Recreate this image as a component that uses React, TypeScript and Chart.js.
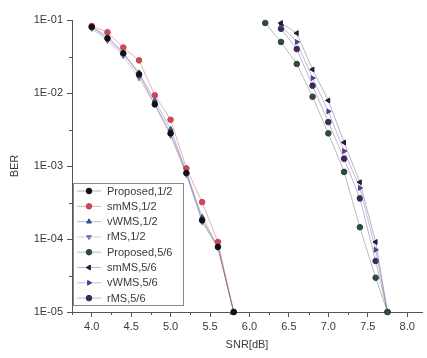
import React, { useEffect, useRef } from "react";
import { Chart, registerables } from "chart.js";
import { drawPoint } from "chart.js/helpers";

Chart.register(...registerables);

const snrRate12 = [4.0, 4.2, 4.4, 4.6, 4.8, 5.0, 5.2, 5.4, 5.6, 5.8];
const snrRate56 = [6.2, 6.4, 6.6, 6.8, 7.0, 7.2, 7.4, 7.6, 7.75];

const proposed12 = [8.0e-2, 5.6e-2, 3.5e-2, 1.8e-2, 7.0e-3, 2.8e-3, 8.0e-4, 1.8e-4, 7.8e-5, 1e-5];
const smMS12 = [8.3e-2, 6.8e-2, 4.2e-2, 2.8e-2, 9.3e-3, 4.3e-3, 9.3e-4, 3.2e-4, 9.1e-5, 1e-5];
const vWMS12 = [8.0e-2, 6.0e-2, 3.5e-2, 1.9e-2, 7.9e-3, 3.2e-3, 8.3e-4, 2.0e-4, 7.9e-5, 1e-5];
const rMS12 = [7.6e-2, 5.2e-2, 3.2e-2, 1.6e-2, 6.9e-3, 2.6e-3, 7.6e-4, 1.7e-4, 7.6e-5, 1e-5];

const proposed56 = [9.1e-2, 5.0e-2, 2.5e-2, 8.9e-3, 2.8e-3, 8.3e-4, 1.45e-4, 2.95e-5, 1e-5];
const smMS56 = [null, 9.1e-2, 6.6e-2, 2.1e-2, 7.9e-3, 2.1e-3, 6.0e-4, 9.1e-5, 1e-5];
const vWMS56 = [null, 8.5e-2, 5.0e-2, 1.6e-2, 5.6e-3, 1.6e-3, 5.0e-4, 7.1e-5, 1e-5];
const rMS56 = [null, 7.6e-2, 4.0e-2, 1.26e-2, 4.0e-3, 1.26e-3, 3.6e-4, 5.0e-5, 1e-5];

const xTickValues = [4.0, 4.5, 5.0, 5.5, 6.0, 6.5, 7.0, 7.5, 8.0];
const yTickValues = [1e-5, 1e-4, 1e-3, 1e-2, 1e-1];
const xMinorTicks = [3.75, 4.25, 4.75, 5.25, 5.75, 6.25, 6.75, 7.25, 7.75];
const yMinorTicks = [3.16e-5, 3.16e-4, 3.16e-3, 3.16e-2];

const seriesLabels = [
  "Proposed,1/2", "smMS,1/2", "vWMS,1/2", "rMS,1/2",
  "Proposed,5/6", "smMS,5/6", "vWMS,5/6", "rMS,5/6",
];
const seriesValues = [proposed12, smMS12, vWMS12, rMS12, proposed56, smMS56, vWMS56, rMS56];
const seriesColors = ["#111111", "#c8485a", "#2f4f8f", "#8a6fc0", "#2f4a3a", "#1e1e3a", "#5a3a8a", "#3a2a55"];
const seriesLineColors = [
  "rgba(80,80,80,0.45)", "rgba(220,90,110,0.5)", "rgba(90,110,170,0.45)", "rgba(160,130,210,0.45)",
  "rgba(90,110,100,0.45)", "rgba(90,90,120,0.45)", "rgba(150,110,200,0.5)", "rgba(120,90,150,0.45)",
];
const seriesStyles = ["circle", "circle", "triangle", "triangle", "circle", "triangle", "triangle", "circle"];
const seriesRotations = [0, 0, 0, 180, 0, -90, 90, 0];

const FONT = "'Liberation Sans', Arial, sans-serif";
const TEXT = "#3a3a3a";
const AXIS = "#555555";

const minorTicksPlugin = {
  id: "minorTicks",
  afterDraw(chart: any) {
    const { ctx, scales, chartArea } = chart;
    ctx.save();
    ctx.strokeStyle = AXIS;
    ctx.lineWidth = 1;
    ctx.beginPath();
    xMinorTicks.forEach((v) => {
      const px = Math.round(scales.x.getPixelForValue(v)) + 0.5;
      ctx.moveTo(px, chartArea.bottom);
      ctx.lineTo(px, chartArea.bottom + 3);
    });
    yMinorTicks.forEach((v) => {
      const py = Math.round(scales.y.getPixelForValue(v)) + 0.5;
      ctx.moveTo(chartArea.left, py);
      ctx.lineTo(chartArea.left - 3, py);
    });
    ctx.stroke();
    ctx.restore();
  },
};

const legendPlugin = {
  id: "originLegend",
  afterDraw(chart: any) {
    const { ctx, chartArea } = chart;
    const left = chartArea.left + 1;
    const width = 110;
    const rowH = 15.3;
    const height = 122;
    const top = chartArea.bottom - 129;
    ctx.save();
    ctx.fillStyle = "rgba(255,255,255,0.9)";
    ctx.fillRect(left, top, width, height);
    ctx.strokeStyle = "#888888";
    ctx.lineWidth = 1;
    ctx.strokeRect(left + 0.5, top + 0.5, width, height);
    ctx.font = `11px ${FONT}`;
    ctx.textBaseline = "middle";
    chart.data.datasets.forEach((ds: any, i: number) => {
      const cy = top + 8 + i * rowH;
      ctx.strokeStyle = ds.borderColor;
      ctx.lineWidth = 1;
      ctx.beginPath();
      ctx.moveTo(left + 4, cy);
      ctx.lineTo(left + 28, cy);
      ctx.stroke();
      ctx.fillStyle = ds.pointBackgroundColor;
      ctx.strokeStyle = ds.pointBorderColor;
      drawPoint(ctx, { pointStyle: ds.pointStyle, rotation: ds.pointRotation, radius: 2.8, borderWidth: 1 }, left + 16, cy);
      ctx.fillStyle = TEXT;
      ctx.fillText(ds.label, left + 34, cy + 0.5);
    });
    ctx.restore();
  },
};

const bgPlugin = {
  id: "bg",
  beforeDraw(chart: any) {
    const { ctx, width, height } = chart;
    ctx.save();
    ctx.fillStyle = "#ffffff";
    ctx.fillRect(0, 0, width, height);
    ctx.restore();
  },
};

function formatExp(v: number) {
  const e = Math.round(Math.log10(v));
  const sign = e < 0 ? "-" : "+";
  return `1E${sign}${String(Math.abs(e)).padStart(2, "0")}`;
}

export default function App() {
  const canvasRef = useRef<HTMLCanvasElement>(null);

  useEffect(() => {
    const datasets = seriesLabels.map((label, i) => {
      const xs = i < 4 ? snrRate12 : snrRate56;
      return {
        label,
        data: xs.map((x, j) => ({ x, y: seriesValues[i][j] })),
        borderColor: seriesLineColors[i],
        borderWidth: 1,
        pointBackgroundColor: seriesColors[i],
        pointBorderColor: seriesColors[i],
        pointStyle: seriesStyles[i],
        pointRotation: seriesRotations[i],
        pointRadius: 2.8,
        pointBorderWidth: 1,
        tension: 0,
        spanGaps: false,
        clip: 4,
      };
    });

    const chart = new Chart(canvasRef.current!, {
      type: "line",
      data: { datasets },
      plugins: [bgPlugin, minorTicksPlugin, legendPlugin],
      options: {
        animation: false,
        responsive: false,
        maintainAspectRatio: false,
        layout: { padding: { top: 20, right: 0, left: 0, bottom: 0 } },
        plugins: {
          legend: { display: false },
          tooltip: { enabled: false },
        },
        scales: {
          x: {
            type: "linear",
            min: 3.75,
            max: 8.1875,
            afterBuildTicks: (scale: any) => {
              scale.ticks = xTickValues.map((v) => ({ value: v }));
            },
            afterFit: (scale: any) => {
              scale.height = 46;
            },
            ticks: {
              autoSkip: false,
              maxRotation: 0,
              padding: 3,
              color: TEXT,
              font: { family: FONT, size: 11 },
              callback: (v: any) => Number(v).toFixed(1),
            },
            grid: { drawOnChartArea: false, drawTicks: true, tickLength: 5, color: AXIS },
            border: { display: true, color: AXIS, width: 1 },
            title: {
              display: true,
              text: "SNR[dB]",
              color: TEXT,
              font: { family: FONT, size: 11 },
              padding: { top: 2, bottom: 6 },
            },
          },
          y: {
            type: "logarithmic",
            min: 1e-5,
            max: 1e-1,
            afterBuildTicks: (scale: any) => {
              scale.ticks = yTickValues.map((v) => ({ value: v }));
            },
            afterFit: (scale: any) => {
              scale.width = 72;
            },
            ticks: {
              autoSkip: false,
              padding: 4,
              color: TEXT,
              font: { family: FONT, size: 11 },
              callback: (v: any) => formatExp(Number(v)),
            },
            grid: { drawOnChartArea: false, drawTicks: true, tickLength: 5, color: AXIS },
            border: { display: true, color: AXIS, width: 1 },
            title: {
              display: true,
              text: "BER",
              color: TEXT,
              font: { family: FONT, size: 11 },
              padding: { top: 8, bottom: 0 },
            },
          },
        },
      },
    });
    return () => chart.destroy();
  }, []);

  return (
    <div style={{ position: "fixed", left: 0, top: 0, width: 427, height: 358, background: "#fff" }}>
      <canvas ref={canvasRef} width={427} height={358} style={{ width: 427, height: 358, display: "block" }} />
    </div>
  );
}
